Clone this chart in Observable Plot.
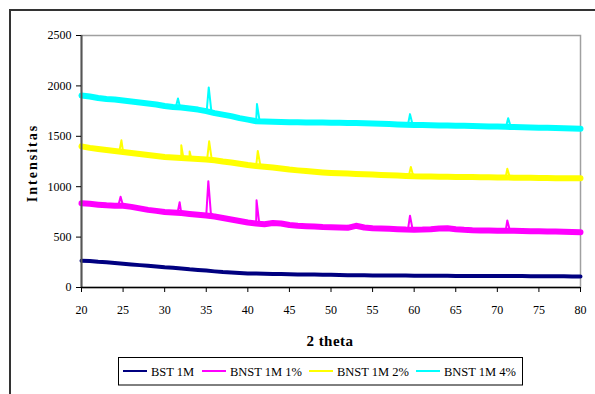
<!DOCTYPE html>
<html><head><meta charset="utf-8">
<script src="https://cdn.jsdelivr.net/npm/d3@7"></script>
<script src="https://cdn.jsdelivr.net/npm/@observablehq/plot@0.6"></script>
<style>
body{margin:0;background:#fff}
svg{display:block}
svg text{font-family:"Liberation Serif","Times New Roman",serif !important;}
</style>
</head><body><div id="chart"></div>
<script>
const theta = [20,21,22,23,24,25,26,27,28,29,30,31,32,33,34,35,36,37,38,39,40,41,42,43,44,45,46,47,48,49,50,51,52,53,54,55,56,57,58,59,60,61,62,63,64,65,66,67,68,69,70,71,72,73,74,75,76,77,78,79,80];

const bst1M = [265,262,255,250,242,235,228,222,215,208,200,195,188,180,174,168,160,153,148,144,140,138,136,135,133,132,130,129,128,127,126,125,122,121,121,120,120,119,119,118,117,117,116,116,116,115,115,115,114,114,114,113,113,113,112,112,112,111,111,110,110];
const bnst1 = [835,830,822,815,810,810,800,785,770,760,750,745,738,730,722,715,705,690,675,660,645,635,628,640,635,620,612,608,604,600,598,596,592,612,595,588,585,582,578,575,574,575,578,585,588,578,572,568,566,565,563,562,562,560,558,557,556,555,553,551,549];
const bnst2 = [1400,1385,1375,1365,1355,1345,1335,1325,1315,1305,1295,1290,1285,1280,1275,1270,1262,1250,1240,1228,1215,1205,1198,1190,1180,1170,1162,1155,1148,1142,1137,1133,1130,1127,1124,1120,1117,1114,1110,1106,1103,1102,1100,1099,1098,1097,1096,1095,1094,1093,1092,1091,1090,1089,1088,1087,1086,1085,1085,1084,1083];
const bnst4 = [1905,1895,1880,1870,1865,1855,1845,1835,1825,1815,1800,1790,1785,1775,1765,1750,1730,1715,1700,1680,1665,1650,1648,1645,1642,1640,1639,1638,1637,1636,1635,1634,1632,1631,1630,1628,1625,1622,1618,1615,1612,1612,1610,1608,1606,1605,1604,1602,1600,1598,1596,1594,1592,1590,1588,1586,1584,1582,1580,1578,1576];

// diffraction peaks (theta, intensity)
const bnst1PeakTheta = [24.45,24.7,24.95, 31.55,31.8,32.05, 35.0,35.25,35.55, 40.8,41.05,41.35, 59.25,59.5,59.8, 70.95,71.2,71.5];
const bnst1PeakValue = [820,900,825, 742,846,740, 716,1055,740, 638,865,650, 574,712,582, 562,665,568];
const bnst2PeakTheta = [24.55,24.8,25.05, 31.75,32.0,32.25, 32.8,33.0,33.2, 35.1,35.35,35.65, 40.95,41.2,41.5, 59.35,59.6,59.9, 70.95,71.2,71.5];
const bnst2PeakValue = [1350,1460,1348, 1288,1410,1285, 1282,1350,1280, 1268,1450,1275, 1206,1355,1210, 1105,1195,1104, 1091,1178,1093];
const bnst4PeakTheta = [31.35,31.6,31.85, 35.05,35.3,35.6, 40.85,41.1,41.4, 59.25,59.5,59.8, 71.05,71.3,71.6];
const bnst4PeakValue = [1792,1875,1788, 1748,1985,1760, 1652,1820,1660, 1615,1720,1620, 1594,1680,1596];

const seriesNames = ["BST 1M","BNST 1M 1%","BNST 1M 2%","BNST 1M 4%"];
const seriesColors = ["#000080","#ff00ff","#ffff00","#00ffff"];
const xTicks = [20,25,30,35,40,45,50,55,60,65,70,75,80];
const yTicks = [0,500,1000,1500,2000,2500];

function build(name, vals, pt, pv) {
  const r = theta.map((t,i)=>({series:name, theta:t, value:vals[i]}));
  (pt||[]).forEach((t,i)=>r.push({series:name, theta:t, value:pv[i]}));
  return r.sort((a,b)=>a.theta-b.theta);
}
const rowsNavy = build(seriesNames[0], bst1M);
const bandOthers = [
  ...build(seriesNames[1], bnst1),
  ...build(seriesNames[2], bnst2),
  ...build(seriesNames[3], bnst4)
];
const rowsOthers = [
  ...build(seriesNames[1], bnst1, bnst1PeakTheta, bnst1PeakValue),
  ...build(seriesNames[2], bnst2, bnst2PeakTheta, bnst2PeakValue),
  ...build(seriesNames[3], bnst4, bnst4PeakTheta, bnst4PeakValue)
];

const serif = "Liberation Serif, Times New Roman, serif";
const chart = Plot.plot({
  width: 595, height: 394,
  marginLeft: 81, marginRight: 15, marginTop: 35, marginBottom: 107,
  style: {fontFamily: serif, fontSize: "12px", color: "#000", background: "#fff"},
  x: {domain: [20, 80]},
  y: {domain: [0, 2500]},
  color: {domain: seriesNames, range: seriesColors},
  marks: [
    Plot.frame({stroke: "#a0a0a0", strokeWidth: 1.5}),
    Plot.line(rowsNavy, {x: "theta", y: "value", z: "series", stroke: "series", strokeWidth: 4}),
    Plot.line(bandOthers, {x: "theta", y: "value", z: "series", stroke: "series", strokeWidth: 6}),
    Plot.line(rowsOthers, {x: "theta", y: "value", z: "series", stroke: "series", strokeWidth: 2}),
    Plot.ruleX([20], {stroke: "#555", strokeWidth: 2}),
    Plot.ruleY([0], {stroke: "#000", strokeWidth: 1.5}),
    Plot.axisX({ticks: xTicks, tickSize: 5, tickPadding: 13, tickFormat: d3.format("d"), label: null}),
    Plot.axisY({ticks: yTicks, tickSize: 5, tickPadding: 5, tickFormat: d3.format("d"), label: null})
  ]
});
document.getElementById("chart").appendChild(chart);

const svg = d3.select(chart);
svg.append("path").attr("d", "M10,394V10H595").attr("fill", "none").attr("stroke", "#333").attr("stroke-width", 2);
svg.append("text").attr("transform", "translate(37,163) rotate(-90)").attr("text-anchor", "middle")
  .attr("font-weight", "bold").attr("font-size", 14).attr("letter-spacing", 2).text("Intensitas");
svg.append("text").attr("x", 330).attr("y", 346).attr("text-anchor", "middle")
  .attr("font-weight", "bold").attr("font-size", 15).attr("letter-spacing", 0.5).text("2 theta");

const lg = svg.append("g");
lg.append("rect").attr("x", 118.5).attr("y", 357.5).attr("width", 404).attr("height", 27.5).attr("fill", "#fff").attr("stroke", "#000");
const lgX = [123, 202, 309, 416];
seriesNames.forEach((n, i) => {
  lg.append("line").attr("x1", lgX[i]).attr("x2", lgX[i] + 24).attr("y1", 371).attr("y2", 371)
    .attr("stroke", seriesColors[i]).attr("stroke-width", 2);
  lg.append("text").attr("x", lgX[i] + 28).attr("y", 375.5).attr("text-anchor", "start")
    .attr("font-size", 12.5).text(n);
});
</script></body></html>
